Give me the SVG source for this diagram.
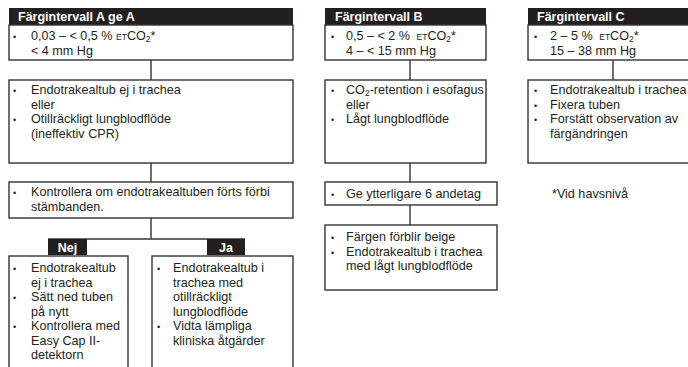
<svg xmlns="http://www.w3.org/2000/svg" width="688" height="367" viewBox="0 0 688 367">
<style>
.box{fill:#fff;stroke:#333;stroke-width:1.4}
.hdr{fill:#231f20}
.ht{font-family:"Liberation Sans",Arial,sans-serif;font-size:12.5px;font-weight:bold;fill:#fff}
.t{font-family:"Liberation Sans",Arial,sans-serif;font-size:12.6px;fill:#231f20}
.b{font-family:"Liberation Sans",Arial,sans-serif;font-size:9px;fill:#231f20}
.sc{font-size:8.5px}
.sub{font-size:8.5px}
.con{fill:none;stroke:#333;stroke-width:1.4}
</style>
<rect width="688" height="367" fill="#fff"/>
<g id="connectors">
<line class="con" x1="151" y1="60" x2="151" y2="80"/>
<line class="con" x1="151" y1="163" x2="151" y2="182"/>
<line class="con" x1="151" y1="218" x2="151" y2="239"/>
<line class="con" x1="48" y1="239" x2="245" y2="239"/>
<line class="con" x1="410" y1="60" x2="410" y2="80"/>
<line class="con" x1="410" y1="163" x2="410" y2="182"/>
<line class="con" x1="410" y1="205" x2="410" y2="225"/>
<line class="con" x1="613" y1="60" x2="613" y2="80"/>
</g>
<g id="rangeA">
<rect class="hdr" x="9" y="8" width="284" height="17"/>
<text class="ht" x="18" y="21">Färgintervall A ge A</text>
<rect class="box" x="9" y="25" width="284" height="35"/>
<text class="b" x="13" y="39.5">•</text>
<text class="t" x="31" y="39.5">0,03 – &lt; 0,5 % <tspan class="sc">ET</tspan>CO<tspan class="sub" dy="2">2</tspan><tspan dy="-2">*</tspan></text>
<text class="t" x="31" y="54.5">&lt; 4 mm Hg</text>
</g>
<g id="a2">
<rect class="box" x="9" y="80" width="284" height="83"/>
<text class="b" x="13" y="94">•</text>
<text class="t" x="31" y="94">Endotrakealtub ej i trachea</text>
<text class="t" x="31" y="108.5">eller</text>
<text class="b" x="13" y="123">•</text>
<text class="t" x="31" y="123">Otillräckligt lungblodflöde</text>
<text class="t" x="31" y="137.5">(ineffektiv CPR)</text>
</g>
<g id="a3">
<rect class="box" x="9" y="182" width="284" height="36"/>
<text class="b" x="13" y="196">•</text>
<text class="t" x="31" y="196">Kontrollera om endotrakealtuben förts förbi</text>
<text class="t" x="31" y="210.5">stämbanden.</text>
</g>
<g id="nej">
<rect class="hdr" x="48" y="239" width="39" height="16"/>
<text class="ht" x="67.5" y="251.5" text-anchor="middle">Nej</text>
<rect class="box" x="9" y="256" width="119" height="120"/>
<text class="b" x="13" y="272">•</text>
<text class="t" x="31" y="272">Endotrakealtub</text>
<text class="t" x="31" y="286.5">ej i trachea</text>
<text class="b" x="13" y="301">•</text>
<text class="t" x="31" y="301">Sätt ned tuben</text>
<text class="t" x="31" y="315.5">på nytt</text>
<text class="b" x="13" y="330">•</text>
<text class="t" x="31" y="330">Kontrollera med</text>
<text class="t" x="31" y="344.5">Easy Cap II-</text>
<text class="t" x="31" y="359">detektorn</text>
</g>
<g id="ja">
<rect class="hdr" x="207" y="239" width="38" height="16"/>
<text class="ht" x="226" y="251.5" text-anchor="middle">Ja</text>
<rect class="box" x="152" y="256" width="141" height="120"/>
<text class="b" x="157" y="272">•</text>
<text class="t" x="173" y="272">Endotrakealtub i</text>
<text class="t" x="173" y="286.5">trachea med</text>
<text class="t" x="173" y="301">otillräckligt</text>
<text class="t" x="173" y="315.5">lungblodflöde</text>
<text class="b" x="157" y="330">•</text>
<text class="t" x="173" y="330">Vidta lämpliga</text>
<text class="t" x="173" y="344.5">kliniska åtgärder</text>
</g>
<g id="rangeB">
<rect class="hdr" x="325" y="8" width="161" height="17"/>
<text class="ht" x="335" y="21">Färgintervall B</text>
<rect class="box" x="325" y="25" width="161" height="35"/>
<text class="b" x="331" y="39.5">•</text>
<text class="t" x="346" y="39.5">0,5 – &lt; 2 % <tspan class="sc" dx="3">ET</tspan>CO<tspan class="sub" dy="2">2</tspan><tspan dy="-2">*</tspan></text>
<text class="t" x="346" y="54.5">4 – &lt; 15 mm Hg</text>
</g>
<g id="b2">
<rect class="box" x="325" y="80" width="161" height="83"/>
<text class="b" x="331" y="94">•</text>
<text class="t" x="346" y="94">CO<tspan class="sub" dy="2">2</tspan><tspan dy="-2">-retention i esofagus</tspan></text>
<text class="t" x="346" y="108.5">eller</text>
<text class="b" x="331" y="123">•</text>
<text class="t" x="346" y="123">Lågt lungblodflöde</text>
</g>
<g id="b3">
<rect class="box" x="325" y="182" width="172" height="23"/>
<text class="b" x="331" y="198">•</text>
<text class="t" x="346" y="198">Ge ytterligare 6 andetag</text>
</g>
<g id="b4">
<rect class="box" x="325" y="225" width="172" height="65"/>
<text class="b" x="331" y="241">•</text>
<text class="t" x="346" y="241">Färgen förblir beige</text>
<text class="b" x="331" y="255.5">•</text>
<text class="t" x="346" y="255.5">Endotrakealtub i trachea</text>
<text class="t" x="346" y="270">med lågt lungblodflöde</text>
</g>
<g id="rangeC">
<rect class="hdr" x="528" y="8" width="170" height="17"/>
<text class="ht" x="537" y="21">Färgintervall C</text>
<rect class="box" x="528" y="25" width="170" height="35"/>
<text class="b" x="534" y="39.5">•</text>
<text class="t" x="550" y="39.5">2 – 5 % <tspan class="sc" dx="3">ET</tspan>CO<tspan class="sub" dy="2">2</tspan><tspan dy="-2">*</tspan></text>
<text class="t" x="550" y="54.5">15 – 38 mm Hg</text>
</g>
<g id="c2">
<rect class="box" x="528" y="80" width="170" height="83"/>
<text class="b" x="534" y="94">•</text>
<text class="t" x="550" y="94">Endotrakealtub i trachea</text>
<text class="b" x="534" y="108.5">•</text>
<text class="t" x="550" y="108.5">Fixera tuben</text>
<text class="b" x="534" y="123">•</text>
<text class="t" x="550" y="123">Forstätt observation av</text>
<text class="t" x="550" y="137.5">färgändringen</text>
</g>
<g id="note">
<text class="t" x="552" y="198">*Vid havsnivå</text>
</g>
</svg>
